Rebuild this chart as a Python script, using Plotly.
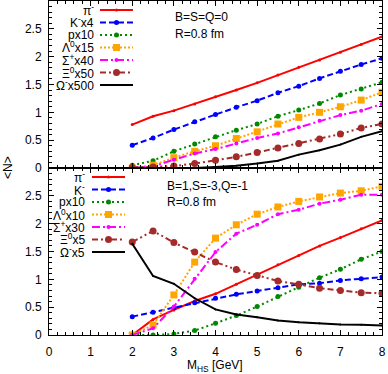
import plotly.graph_objects as go
from plotly.subplots import make_subplots

# M_HS grid [GeV]
m_hs = [2, 2.5, 3, 3.5, 4, 4.5, 5, 5.5, 6, 6.5, 7, 7.5, 8]

# upper panel: B=S=Q=0
pi_top = [0.78, 0.93, 1.03, 1.15, 1.28, 1.40, 1.53, 1.67, 1.81, 1.94, 2.08, 2.22, 2.36]
k_top = [0.41, 0.54, 0.69, 0.83, 0.96, 1.09, 1.21, 1.35, 1.47, 1.61, 1.74, 1.86, 1.97]
p_top = [0.05, 0.13, 0.30, 0.43, 0.56, 0.68, 0.79, 0.93, 1.04, 1.16, 1.31, 1.42, 1.54]
lam_top = [0.0, 0.05, 0.185, 0.30, 0.40, 0.53, 0.65, 0.79, 0.91, 1.0, 1.10, 1.22, 1.36]
sig_top = [0.0, 0.03, 0.15, 0.26, 0.34, 0.44, 0.54, 0.62, 0.73, 0.85, 0.95, 1.03, 1.15]
xi_top = [0.01, 0.02, 0.035, 0.08, 0.14, 0.20, 0.28, 0.36, 0.44, 0.52, 0.61, 0.72, 0.79]
om_top = [0.0, 0.0, 0.0, 0.0, 0.02, 0.04, 0.08, 0.13, 0.24, 0.32, 0.42, 0.56, 0.66]

# lower panel: B=1,S=-3,Q=-1
pi_bot = [0.0, 0.28, 0.45, 0.61, 0.74, 0.91, 1.08, 1.26, 1.43, 1.60, 1.75, 1.91, 2.06]
k_bot = [0.33, 0.41, 0.49, 0.58, 0.66, 0.73, 0.79, 0.85, 0.91, 0.93, 0.98, 1.01, 1.04]
p_bot = [0.0, 0.0, 0.02, 0.08, 0.21, 0.35, 0.51, 0.69, 0.86, 1.03, 1.18, 1.36, 1.50]
lam_bot = [0.0, 0.18, 0.72, 1.31, 1.74, 1.98, 2.17, 2.30, 2.40, 2.48, 2.55, 2.59, 2.67]
sig_bot = [0.0, 0.12, 0.51, 1.01, 1.49, 1.82, 1.98, 2.17, 2.25, 2.36, 2.43, 2.52, 2.52]
xi_bot = [1.67, 1.87, 1.66, 1.49, 1.31, 1.175, 1.07, 0.97, 0.91, 0.84, 0.80, 0.76, 0.75]
om_bot = [1.64, 1.06, 0.92, 0.66, 0.46, 0.37, 0.32, 0.26, 0.23, 0.21, 0.19, 0.185, 0.17]

names_top = ["π<sup>-</sup>", "K<sup>-</sup>x4", "px10", "Λ<sup>0</sup>x15",
             "Σ<sup>+</sup>x40", "Ξ<sup>0</sup>x50", "Ω<sup>-</sup>x500"]
names_bot = ["π<sup>-</sup>", "K<sup>-</sup>", "px10", "Λ<sup>0</sup>x10",
             "Σ<sup>+</sup>x30", "Ξ<sup>0</sup>x5", "Ω<sup>-</sup>x5"]

# color, dash, marker symbol, marker size
styles = [
    ("#ff0000", "solid", "circle", 3),
    ("#0000ff", "6px,3px", "circle", 5),
    ("#008800", "2px,3px", "circle", 5),
    ("#ffa500", "2px,2px", "square", 7),
    ("#ff00ff", "8px,3px,2px,3px", "circle", 4),
    ("#a52a2a", "6px,3px,2px,3px,2px,3px", "circle", 7),
    ("#000000", "solid", "circle", 2),
]

W, H = 388, 374
L, R, T, B = 49, 6, 1, 39
PW, PH = W - L - R, H - T - B


def px(xp):
    return (xp - L) / PW


def py(yp):
    return (H - B - yp) / PH


FONT = "Liberation Sans, Arial, sans-serif"

fig = make_subplots(rows=2, cols=1, shared_xaxes=True, vertical_spacing=0)

for row, series in [(1, [pi_top, k_top, p_top, lam_top, sig_top, xi_top, om_top]),
                    (2, [pi_bot, k_bot, p_bot, lam_bot, sig_bot, xi_bot, om_bot])]:
    for ys, (col, dash, sym, sz) in zip(series, styles):
        fig.add_trace(go.Scatter(x=m_hs, y=ys, mode="lines+markers",
                                 line=dict(color=col, width=2, dash=dash),
                                 marker=dict(color=col, symbol=sym, size=sz),
                                 showlegend=False, cliponaxis=True), row=row, col=1)

# hand made legends: label right aligned, sample line to its right
shapes, annos = [], []
legends = [(names_top, 10, 12.5, 96, 100, 133),
           (names_bot, 177, 12.5, 87, 92, 125)]
for names, y0, dy, tx, lx0, lx1 in legends:
    for i, (name, (col, dash, sym, sz)) in enumerate(zip(names, styles)):
        yy = y0 + i * dy
        annos.append(dict(x=px(tx), y=py(yy), xref="paper", yref="paper", text=name,
                          showarrow=False, xanchor="right", yanchor="middle",
                          font=dict(size=12, family=FONT, color="black")))
        shapes.append(dict(type="line", xref="paper", yref="paper",
                           x0=px(lx0), x1=px(lx1), y0=py(yy), y1=py(yy),
                           line=dict(color=col, width=2, dash=dash)))
        shapes.append(dict(type="rect" if sym == "square" else "circle",
                           xref="paper", yref="paper", xsizemode="pixel", ysizemode="pixel",
                           xanchor=px((lx0 + lx1) / 2), yanchor=py(yy),
                           x0=-sz / 2, x1=sz / 2, y0=-sz / 2, y1=sz / 2,
                           fillcolor=col, line=dict(width=0)))

texts = [("B=S=Q=0", 173, 17), ("R=0.8 fm", 173, 34),
         ("B=1,S=-3,Q=-1", 165, 186), ("R=0.8 fm", 165, 202)]
for t, xx, yy in texts:
    annos.append(dict(x=px(xx), y=py(yy), xref="paper", yref="paper", text=t,
                      showarrow=False, xanchor="left", yanchor="middle",
                      font=dict(size=12, family=FONT, color="black")))

annos.append(dict(x=px(8), y=py(168), xref="paper", yref="paper", text="&lt;N&gt;",
                  textangle=-90, showarrow=False, xanchor="center", yanchor="middle",
                  font=dict(size=12, family=FONT, color="black")))
annos.append(dict(x=px(215), y=py(356), xref="paper", yref="paper",
                  text="M<sub>HS</sub> [GeV]", showarrow=False,
                  xanchor="center", yanchor="top",
                  font=dict(size=12, family=FONT, color="black")))

axis_common = dict(showline=True, linecolor="black", linewidth=1, mirror="allticks",
                   ticks="inside", ticklen=5, tickcolor="black", tickwidth=1,
                   showgrid=False, zeroline=False,
                   tickfont=dict(size=12, family=FONT, color="black"))
yticks = [0, 0.5, 1, 1.5, 2, 2.5]
for r in (1, 2):
    fig.update_yaxes(axis_common, range=[0, 3], tickvals=yticks,
                     ticktext=["0", "0.5", "1", "1.5", "2", "2.5"],
                     ticklabelstandoff=4,
                     minor=dict(ticks="inside", ticklen=3, dtick=0.1, tickcolor="black"),
                     row=r, col=1)
    fig.update_xaxes(axis_common, range=[0, 8], dtick=1, tick0=0,
                     ticklabelstandoff=6,
                     minor=dict(ticks="inside", ticklen=3, dtick=0.2, tickcolor="black"),
                     row=r, col=1)
fig.update_xaxes(showticklabels=False, row=1, col=1)

fig.update_layout(width=W, height=H, margin=dict(l=L, r=R, t=T, b=B, pad=0),
                  plot_bgcolor="white", paper_bgcolor="white",
                  shapes=shapes, annotations=annos,
                  font=dict(family=FONT, size=12, color="black"))

fig.write_html("out.html", config={"displayModeBar": False},
               post_script="document.body.style.margin='0px';"
                           "document.body.style.overflow='hidden';")
